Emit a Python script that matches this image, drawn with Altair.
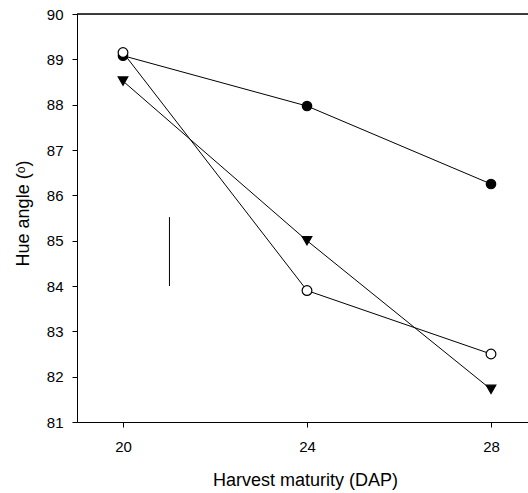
import altair as alt
import pandas as pd

dap = [20, 24, 28]
series_names = ["filled", "triangle", "open"]
filled_circle = [89.08, 87.97, 86.25]
triangle_down = [88.52, 85.00, 81.72]
open_circle = [89.15, 83.90, 82.50]
y_ticks = [81, 82, 83, 84, 85, 86, 87, 88, 89, 90]
x_ticks = [20, 24, 28]
lsd_x = [21.01]
lsd_low = [84.0]
lsd_high = [85.52]

rows = []
for name, vals in zip(series_names, [filled_circle, triangle_down, open_circle]):
    for x, y in zip(dap, vals):
        rows.append({"series": name, "dap": x, "hue": y})
df = pd.DataFrame(rows)
lsd = pd.DataFrame({"x": lsd_x, "lo": lsd_low, "hi": lsd_high})

W, H = 451, 408
FONT = "Liberation Sans"

xscale = alt.Scale(domain=[19, 19 + W / 46.0], nice=False, zero=False)
yscale = alt.Scale(domain=[81, 90], nice=False, zero=False)

xaxis = alt.Axis(values=x_ticks, title="Harvest maturity (DAP)", grid=False,
                 tickSize=5, labelPadding=12, labelFontSize=15, titleFontSize=18,
                 labelFont=FONT, titleFont=FONT, titleFontWeight="normal",
                 titleBaseline="alphabetic", titleY=63, titleX=228,
                 domainColor="black", tickColor="black", labelColor="black", titleColor="black")
yaxis = alt.Axis(values=y_ticks, title="Hue angle (ᵒ)", grid=False,
                 tickSize=5, labelPadding=9, labelFontSize=15, titleFontSize=18,
                 labelFont=FONT, titleFont=FONT, titleFontWeight="normal",
                 titleBaseline="alphabetic", titleX=-49, titleY=199, titleAngle=-90,
                 domainColor="black", tickColor="black", labelColor="black", titleColor="black")

base = alt.Chart(df)

lines = base.mark_line(color="black", strokeWidth=1).encode(
    x=alt.X("dap:Q", scale=xscale, axis=xaxis),
    y=alt.Y("hue:Q", scale=yscale, axis=yaxis),
    detail="series:N",
)

points = base.mark_point(filled=False, stroke="black", strokeWidth=1.2, opacity=1).encode(
    x=alt.X("dap:Q", scale=xscale),
    y=alt.Y("hue:Q", scale=yscale),
    shape=alt.Shape("series:N", scale=alt.Scale(domain=series_names,
                    range=["circle", "triangle-down", "circle"]), legend=None),
    fill=alt.Fill("series:N", scale=alt.Scale(domain=series_names,
                  range=["black", "black", "white"]), legend=None),
    size=alt.Size("series:N", scale=alt.Scale(domain=series_names,
                  range=[90, 95, 90]), legend=None),
    order=alt.Order("order:Q"),
).transform_calculate(order="datum.series == 'open' ? 2 : (datum.series == 'triangle' ? 1 : 0)")

bar = alt.Chart(lsd).mark_rule(color="black", strokeWidth=1).encode(
    x=alt.X("x:Q", scale=xscale),
    y=alt.Y("lo:Q", scale=yscale),
    y2="hi:Q",
)

top = alt.Chart(pd.DataFrame({"y": [90]})).mark_rule(color="black", strokeWidth=1.3).encode(
    y=alt.Y("y:Q", scale=yscale),
    x=alt.value(0),
    x2=alt.value(W),
)

chart = alt.layer(lines, bar, top, points).properties(
    width=W, height=H,
    autosize=alt.AutoSizeParams(type="none"),
    padding={"left": 77, "top": 14, "right": 0, "bottom": 71},
).configure_view(stroke=None).configure(background="white")

chart.save("out.html", embed_options={"renderer": "svg", "actions": False})
